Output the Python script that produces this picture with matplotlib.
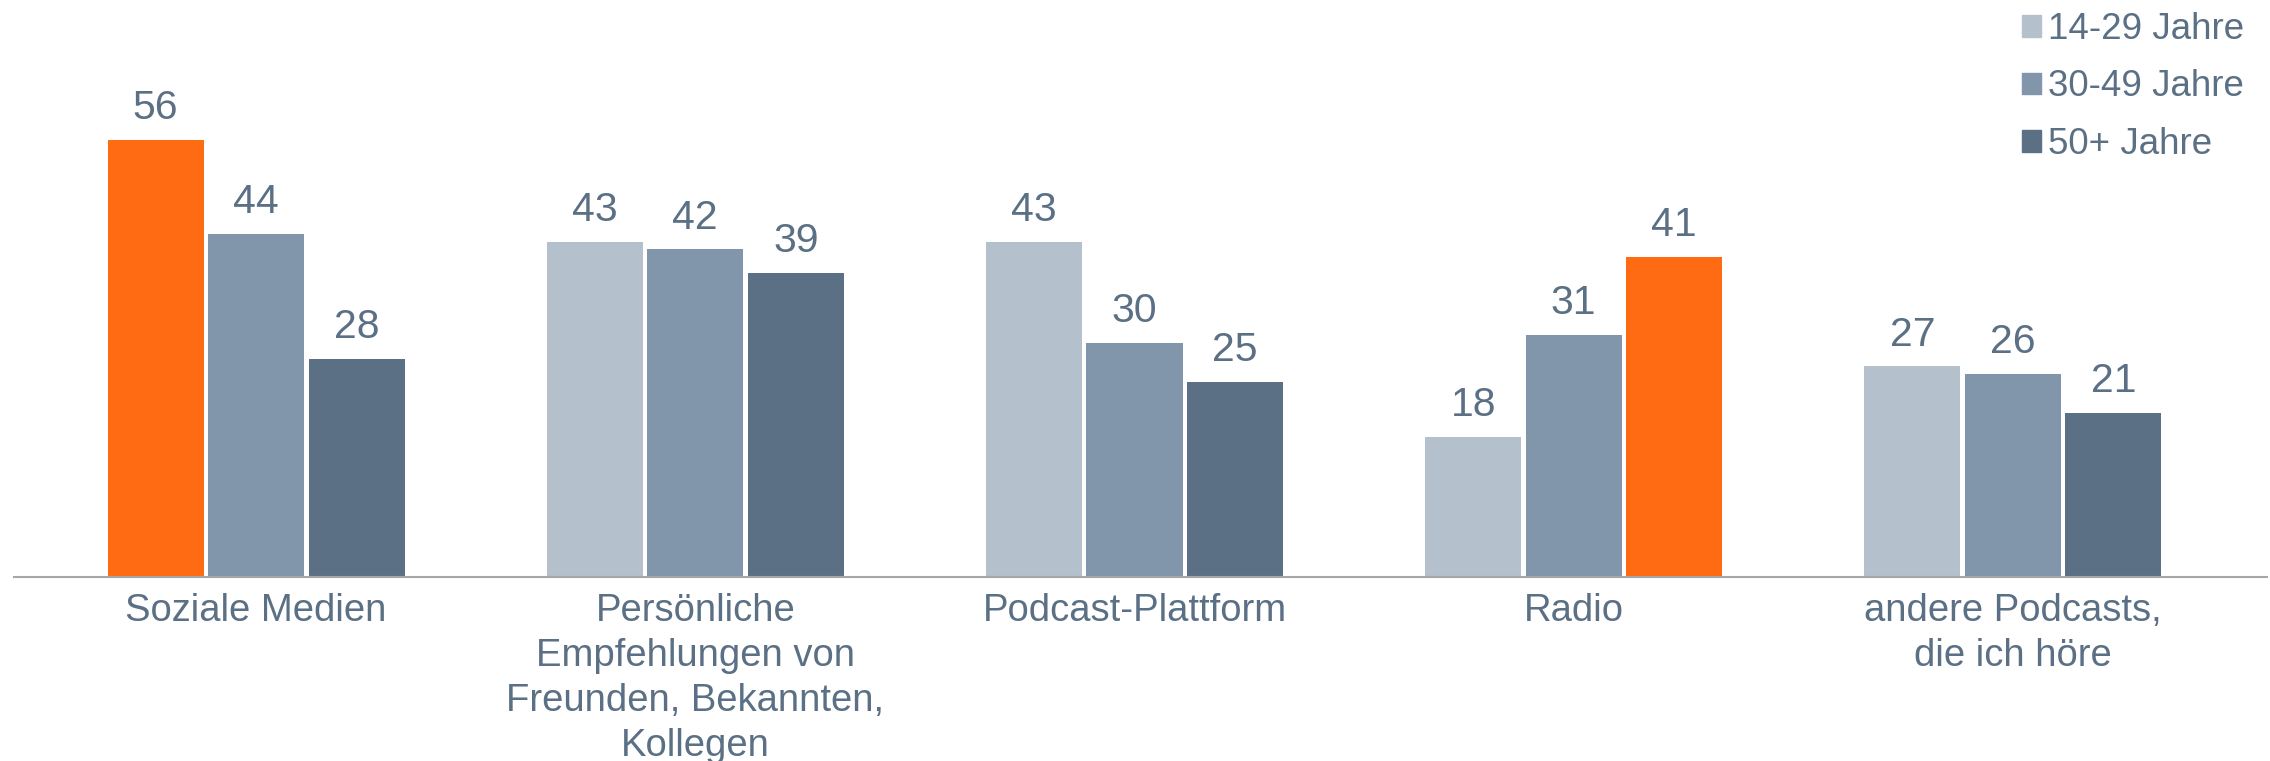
import numpy as np
import matplotlib
matplotlib.use("Agg")
import matplotlib.pyplot as plt
from matplotlib.patches import Patch

# %% data
categories = [
    "Soziale Medien",
    "Persönliche\nEmpfehlungen von\nFreunden, Bekannten,\nKollegen",
    "Podcast-Plattform",
    "Radio",
    "andere Podcasts,\ndie ich höre",
]
series_names = ["14-29 Jahre", "30-49 Jahre", "50+ Jahre"]
age_14_29 = [56, 43, 43, 18, 27]
age_30_49 = [44, 42, 30, 31, 26]
age_50_plus = [28, 39, 25, 41, 21]
# (series index, category index) of the orange bars
highlight = [(0, 0), (2, 3)]

# %% style
colors = ["#B4C0CC", "#8196AB", "#5B7085"]
orange = "#FF6B13"
text_color = "#5B7085"
plt.rcParams["font.family"] = ["Liberation Sans", "DejaVu Sans"]

W, H = 2270, 761
fig = plt.figure(figsize=(W / 100, H / 100), dpi=100)
base_y = 577
ax = fig.add_axes([14 / W, (H - base_y) / H, (2267 - 14) / W, base_y / H])

x = np.arange(len(categories))
bar_w = 96 / 439
step = 100.5 / 439
all_series = [age_14_29, age_30_49, age_50_plus]
for i, vals in enumerate(all_series):
    bar_colors = [orange if (i, j) in highlight else colors[i] for j in range(len(vals))]
    bars = ax.bar(x + (i - 1) * step, vals, width=bar_w, color=bar_colors, zorder=2)
    for b, v in zip(bars, vals):
        ax.annotate(
            str(v),
            (b.get_x() + b.get_width() / 2, v),
            xytext=(0, 15),
            textcoords="offset points",
            ha="center",
            va="baseline",
            fontsize=29.5,
            color=text_color,
        )

ax.set_xlim(-242 / 439, 4 + 254 / 439)
ax.set_ylim(0, base_y / 7.8)
ax.set_xticks(x)
ax.set_xticklabels(categories, fontsize=27.5, color=text_color, linespacing=1.32)
ax.tick_params(axis="x", length=0, pad=11.5)
ax.set_yticks([])
for s in ["top", "right", "left"]:
    ax.spines[s].set_visible(False)
ax.spines["bottom"].set_color("#A6A6A6")
ax.spines["bottom"].set_linewidth(1.5)
ax.spines["bottom"].set_zorder(3)

# legend
handles = [Patch(color=c) for c in colors]
fig.legend(
    handles,
    series_names,
    loc="upper left",
    bbox_to_anchor=(2022 / W, 1 - 12 / H),
    frameon=False,
    fontsize=26.5,
    labelcolor=text_color,
    handlelength=0.52,
    handleheight=0.52,
    handletextpad=0.18,
    labelspacing=0.61,
    borderpad=0,
    borderaxespad=0,
)

plt.savefig("out.png", dpi=100)
